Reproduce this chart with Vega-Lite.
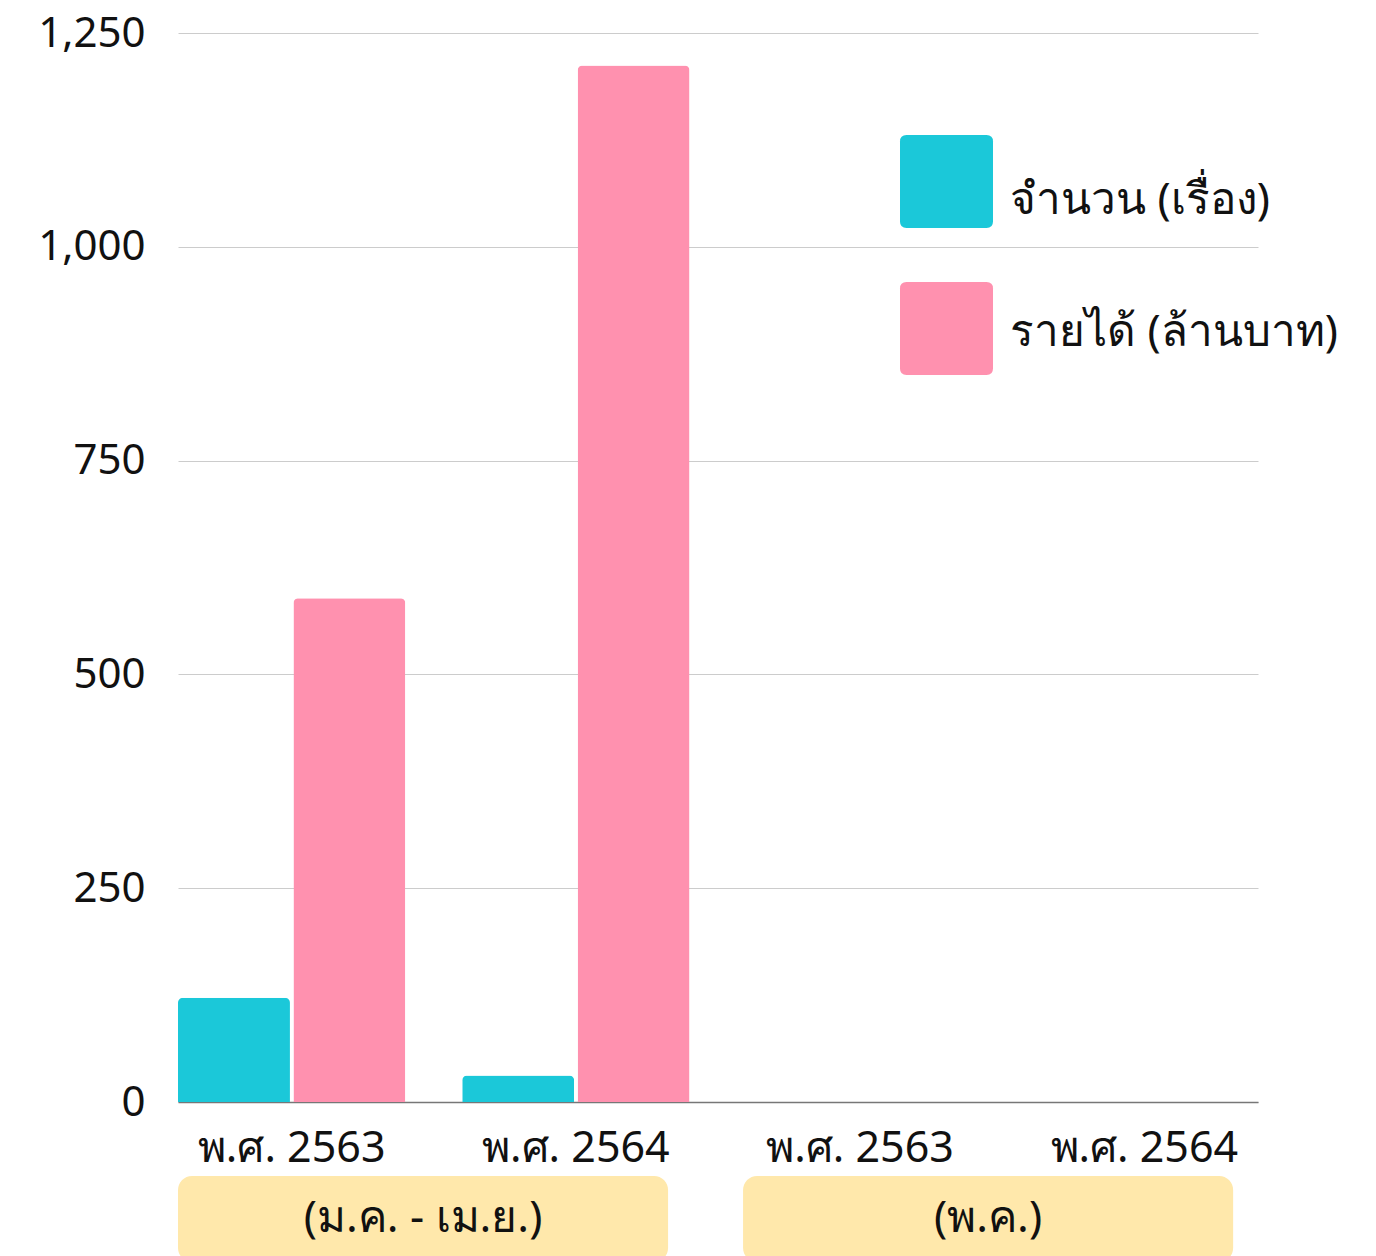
{
  "$schema": "https://vega.github.io/schema/vega-lite/v6.json",
  "padding": {"left": 37, "top": 12, "right": 0, "bottom": 0},
  "autosize": {"type": "pad"},
  "background": "white",
  "config": {
    "view": {"stroke": null},
    "font": "Noto Sans",
    "axis": {"labelFont": "Noto Sans", "labelColor": "#111111"},
    "legend": {"labelFont": "Noto Sans"}
  },
  "spacing": 6,
  "vconcat": [
    {
      "width": 1080,
      "height": 1069,
      "data": {
        "values": [
          {"slot": "พ.ศ. 2563 (ม.ค. - เม.ย.)", "series": "จำนวน (เรื่อง)", "value": 122},
          {"slot": "พ.ศ. 2563 (ม.ค. - เม.ย.)", "series": "รายได้ (ล้านบาท)", "value": 589},
          {"slot": "พ.ศ. 2564 (ม.ค. - เม.ย.)", "series": "จำนวน (เรื่อง)", "value": 31},
          {"slot": "พ.ศ. 2564 (ม.ค. - เม.ย.)", "series": "รายได้ (ล้านบาท)", "value": 1212},
          {"slot": "พ.ศ. 2563 (พ.ค.)", "series": "จำนวน (เรื่อง)", "value": 0},
          {"slot": "พ.ศ. 2563 (พ.ค.)", "series": "รายได้ (ล้านบาท)", "value": 0},
          {"slot": "พ.ศ. 2564 (พ.ค.)", "series": "จำนวน (เรื่อง)", "value": 0},
          {"slot": "พ.ศ. 2564 (พ.ค.)", "series": "รายได้ (ล้านบาท)", "value": 0}
        ]
      },
      "mark": {"type": "bar", "cornerRadiusTopLeft": 5, "cornerRadiusTopRight": 5},
      "encoding": {
        "x": {
          "field": "slot",
          "type": "nominal",
          "scale": {
            "domain": ["พ.ศ. 2563 (ม.ค. - เม.ย.)", "พ.ศ. 2564 (ม.ค. - เม.ย.)", "พ.ศ. 2563 (พ.ค.)", "พ.ศ. 2564 (พ.ค.)"],
            "paddingInner": 0.2,
            "paddingOuter": 0
          },
          "axis": {
            "title": null,
            "labelExpr": "slice(datum.label, 0, 9)",
            "labelAngle": 0,
            "labelFontSize": 43,
            "labelPadding": 25,
            "labelLimit": 400,
            "ticks": false,
            "domainColor": "#777777",
            "domainWidth": 1.5
          }
        },
        "xOffset": {
          "field": "series",
          "type": "nominal",
          "scale": {"paddingInner": 0.03, "paddingOuter": 0}
        },
        "y": {
          "field": "value",
          "type": "quantitative",
          "scale": {"domain": [0, 1250], "nice": false},
          "axis": {
            "title": null,
            "values": [0, 250, 500, 750, 1000, 1250],
            "format": ",d",
            "domain": false,
            "ticks": false,
            "labelFontSize": 42,
            "labelPadding": 33,
            "gridColor": "#cccccc",
            "gridWidth": 1
          }
        },
        "color": {
          "field": "series",
          "type": "nominal",
          "scale": {
            "domain": ["จำนวน (เรื่อง)", "รายได้ (ล้านบาท)"],
            "range": ["#1bc8d9", "#ff91af"]
          },
          "legend": {
            "title": null,
            "orient": "none",
            "legendX": 722,
            "legendY": 102,
            "symbolType": "M-0.86,-1L0.86,-1Q1,-1 1,-0.86L1,0.86Q1,1 0.86,1L-0.86,1Q-1,1 -1,0.86L-1,-0.86Q-1,-1 -0.86,-1Z",
            "symbolSize": 8649,
            "symbolStrokeWidth": 0,
            "symbolOpacity": 1,
            "labelFontSize": 44,
            "labelBaseline": "alphabetic",
            "labelColor": "#111111",
            "labelOffset": 17,
            "rowPadding": 54,
            "labelLimit": 500,
            "encode": {
              "labels": {
                "update": {
                  "dy": {"signal": "datum.index === 0 ? 32 : 17"}
                }
              }
            }
          }
        }
      }
    },
    {
      "width": 1080,
      "height": 86,
      "data": {
        "values": [
          {"period": "(ม.ค. - เม.ย.)"},
          {"period": "(พ.ค.)"}
        ]
      },
      "encoding": {
        "x": {
          "field": "period",
          "type": "nominal",
          "sort": null,
          "scale": {"paddingInner": 0.1327, "paddingOuter": 0.022, "align": 0},
          "axis": null
        }
      },
      "layer": [
        {"mark": {"type": "rect", "color": "#ffe8ab", "cornerRadius": 14}},
        {
          "mark": {"type": "text", "fontSize": 44, "color": "#111111", "baseline": "middle"},
          "encoding": {"text": {"field": "period"}}
        }
      ]
    }
  ]
}
